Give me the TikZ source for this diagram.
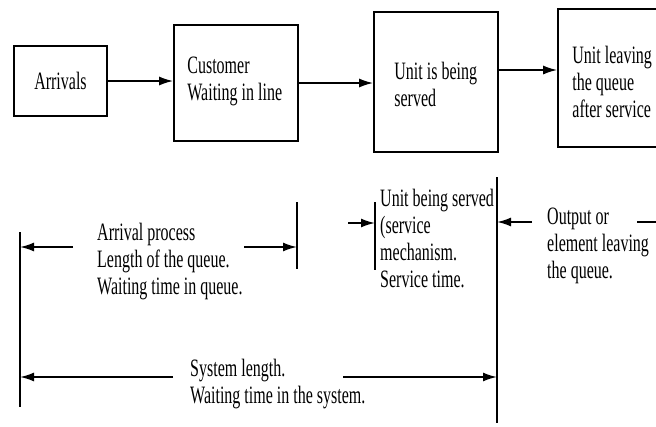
\documentclass[tikz,border=0pt]{standalone}
\usepackage{fontspec}
\setmainfont{Liberation Serif}[FakeStretch=0.64]
\usetikzlibrary{positioning,arrows.meta}

\begin{document}
\begin{tikzpicture}[x=1pt,y=-1pt,>={Latex[length=14pt,width=9pt]},
    font=\fontsize{25}{27}\selectfont,
    box/.style={draw,line width=1.6pt,inner sep=0pt},
    lbl/.style={align=left,anchor=north west,inner sep=0pt},
    inbox/.style={align=left,anchor=west,inner sep=0pt},
    flow/.style={->,line width=1.8pt},
    mark line/.style={line width=1.3pt}]
    \useasboundingbox (0,0) rectangle (656,426);
    % top row
    \node[box,minimum width=93pt,minimum height=70pt] (arr) at (60.5,81) {Arrivals};
    \node[box,minimum width=124pt,minimum height=116pt] (cust) at (236,83) {};
    \node[box,minimum width=124pt,minimum height=140pt] (unit) at (436,82) {};
    \node[box,minimum width=130pt,minimum height=138pt] (leave) at (623,78) {};
    \node[inbox] (custtxt) at ([xshift=14pt,yshift=2pt]cust.west) {Customer\\Waiting in line};
    \node[inbox] (unittxt) at ([xshift=21pt,yshift=-2pt]unit.west) {Unit is being\\served};
    \node[inbox] (leavetxt) at ([xshift=15pt,yshift=-4pt]leave.west) {Unit leaving\\the queue\\after service};
    \draw[flow] (arr.east) -- (arr.east -| cust.west);
    \draw[flow] (cust.east) -- (cust.east -| unit.west);
    \draw[flow] ([yshift=12pt]unit.east) -- ([yshift=12pt]unit.east -| leave.west);
    % bottom part
    \node[lbl] (aproc) at (97,223) {Arrival process\\Length of the queue.\\Waiting time in queue.};
    \node[lbl] (serv) at (380,189) {Unit being served\\(service\\mechanism.\\Service time.};
    \node[lbl] (outp) at (547,208) {Output or\\element leaving\\the queue.};
    \node[lbl] (sys) at (190,359) {System length.\\Waiting time in the system.};
    \coordinate (sysL) at (20,232);
    \coordinate (qR) at (297,202);
    \coordinate (sL) at (375,202);
    \coordinate (sysR) at (497,177);
    \draw[mark line] (sysL) -- ++(0,175);
    \draw[mark line] (qR) -- ++(0,67);
    \draw[mark line] (sL) -- ++(0,68);
    \draw[mark line] (sysR) -- ++(0,246);
    \coordinate (a1) at (73,247);
    \coordinate (a2) at (244,247);
    \coordinate (a3) at (348,223);
    \coordinate (a4) at (532,222);
    \coordinate (a5) at (637,222);
    \coordinate (a6) at (173,377);
    \coordinate (a7) at (343,377);
    \draw[flow] (a1) -- (a1 -| sysL);
    \draw[flow] (a2) -- (a2 -| qR);
    \draw[flow] (a3) -- (a3 -| sL);
    \draw[flow] (a4) -- (a4 -| sysR);
    \draw[flow] (a5) -- ++(35,0);
    \draw[flow] (a6) -- (a6 -| sysL);
    \draw[flow] (a7) -- (a7 -| sysR);
\end{tikzpicture}
\end{document}
